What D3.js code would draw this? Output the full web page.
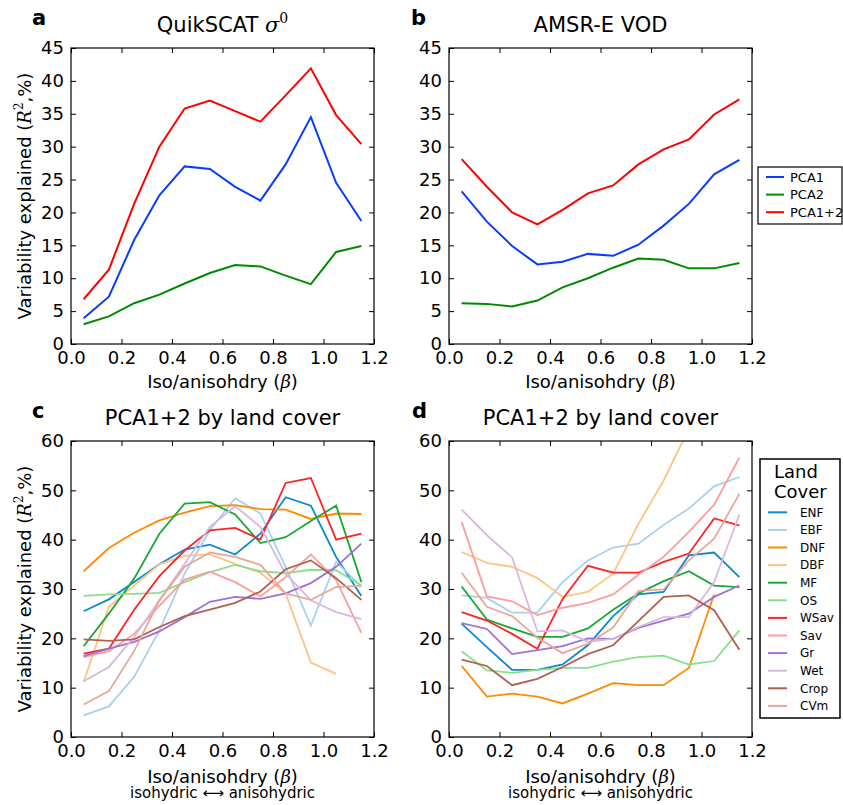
<!DOCTYPE html>
<html>
<head>
<meta charset="utf-8">
<script src="https://cdn.jsdelivr.net/npm/d3@7"></script>
<style>
  html, body { margin: 0; padding: 0; background: #fff; }
  svg { display: block; }
  text { font-family: "DejaVu Sans", sans-serif; fill: #000; }
  .math { font-family: "DejaVu Serif", serif; font-style: italic; }
</style>
</head>
<body>
<svg id="chart" width="843" height="805"></svg>
<script>
// ---------------- DATA ----------------
const betaBins = [0.05, 0.15, 0.25, 0.35, 0.45, 0.55, 0.65, 0.75, 0.85, 0.95, 1.05, 1.15];
const xTicks = [0.0, 0.2, 0.4, 0.6, 0.8, 1.0, 1.2];
const yTicksTop = [0, 5, 10, 15, 20, 25, 30, 35, 40, 45];
const yTicksBottom = [0, 10, 20, 30, 40, 50, 60];

const seriesNames = ["PCA1", "PCA2", "PCA1+2"];
// Panel a: QuikSCAT sigma0
const quikPCA1  = [3.9, 7.2, 15.8, 22.6, 27.0, 26.6, 23.9, 21.8, 27.3, 34.5, 24.5, 18.7];
const quikPCA2  = [3.0, 4.2, 6.2, 7.5, 9.2, 10.8, 12.0, 11.8, 10.4, 9.1, 14.0, 14.9];
const quikPCA12 = [6.8, 11.3, 21.3, 30.0, 35.8, 37.0, 35.4, 33.8, 37.8, 41.9, 34.8, 30.4];
// Panel b: AMSR-E VOD
const vodPCA1  = [23.2, 18.6, 14.9, 12.1, 12.5, 13.7, 13.4, 15.1, 18.0, 21.3, 25.8, 28.0];
const vodPCA2  = [6.2, 6.1, 5.7, 6.6, 8.6, 10.0, 11.6, 13.0, 12.8, 11.5, 11.5, 12.3];
const vodPCA12 = [28.1, 23.9, 20.0, 18.2, 20.4, 22.9, 24.1, 27.3, 29.6, 31.1, 34.9, 37.2];

const landCovers = ["ENF", "EBF", "DNF", "DBF", "MF", "OS", "WSav", "Sav", "Gr", "Wet", "Crop", "CVm"];
// Panel c: PCA1+2 by land cover (QuikSCAT)
const cENF  = [25.5, 27.9, 31.4, 35.0, 38.0, 39.0, 37.0, 41.2, 48.6, 46.9, 36.5, 28.6];
const cEBF  = [4.4, 6.2, 12.2, 21.6, 33.1, 41.9, 48.4, 45.3, 34.5, 22.6, 35.5, 30.5];
const cDNF  = [33.6, 38.3, 41.4, 43.9, 45.5, 46.8, 47.0, 46.2, 46.1, 44.2, 45.3, 45.2];
const cDBF  = [11.1, 26.4, 30.7, 35.0, 36.7, 37.0, 35.1, 33.3, 29.1, 15.1, 12.8, null];
const cMF   = [18.4, 25.0, 32.1, 41.2, 47.3, 47.6, 45.1, 39.3, 40.5, 43.8, 46.9, 31.4];
const cOS   = [28.6, 28.9, 29.0, 29.2, 31.4, 33.4, 34.9, 33.6, 33.2, 33.9, 33.8, 30.7];
const cWSav = [16.9, 17.9, 25.8, 32.6, 37.8, 41.9, 42.4, 40.0, 51.5, 52.5, 40.0, 41.2];
const cSav  = [16.2, 17.4, 20.9, 26.6, 31.9, 33.5, 31.4, 28.5, 32.4, 37.0, 31.8, 21.1];
const cGr   = [16.4, 17.9, 19.3, 21.4, 24.3, 27.4, 28.4, 28.0, 29.1, 31.2, 34.5, 39.2];
const cWet  = [11.3, 14.2, 20.3, 27.7, 35.1, 42.6, 46.8, 42.6, 33.1, 27.7, 25.3, 23.9];
const cCrop = [19.8, 19.5, 19.8, 22.3, 24.5, 25.8, 27.2, 29.5, 34.0, 35.8, 32.2, 27.8];
const cCVm  = [6.6, 9.3, 17.4, 27.7, 34.5, 37.4, 36.5, 34.9, 29.1, 27.8, 30.4, 30.7];
// Panel d: PCA1+2 by land cover (AMSR-E VOD)
const dENF  = [23.0, 18.2, 13.6, 13.6, 14.7, 18.6, 24.5, 28.9, 29.4, 36.8, 37.4, 32.4];
const dEBF  = [28.7, 28.2, 25.2, 25.2, 31.4, 35.8, 38.4, 39.2, 43.0, 46.3, 50.8, 52.7];
const dDNF  = [14.4, 8.2, 8.8, 8.2, 6.8, 8.8, 10.9, 10.5, 10.5, 14.0, 28.9, null];
const dDBF  = [37.5, 35.3, 34.5, 32.2, 28.4, 29.4, 33.1, 43.2, 52.0, 62.5, null, null];
const dMF   = [30.5, 23.8, 22.0, 20.3, 20.3, 22.0, 25.8, 29.1, 31.6, 33.6, 30.7, 30.4];
const dOS   = [17.4, 13.5, 13.0, 13.6, 14.0, 14.0, 15.3, 16.2, 16.5, 14.7, 15.4, 21.6];
const dWSav = [25.3, 23.6, 20.9, 17.9, 28.0, 34.7, 33.3, 33.3, 35.5, 37.2, 44.3, 42.9];
const dSav  = [43.6, 28.5, 27.5, 24.7, 26.2, 27.2, 28.9, 32.9, 36.5, 41.6, 47.1, 56.6];
const dGr   = [23.1, 21.9, 16.8, 17.6, 18.4, 20.0, 19.9, 22.1, 23.6, 25.0, 28.4, 30.7];
const dWet  = [46.1, 40.9, 36.4, 21.4, 21.6, 19.3, 19.9, 22.3, 24.3, 24.3, 31.4, 45.1];
const dCrop = [15.7, 14.4, 10.5, 11.8, 14.2, 16.8, 18.6, 23.5, 28.4, 28.7, 25.7, 17.7];
const dCVm  = [33.3, 26.4, 24.5, 20.1, 17.0, 18.9, 22.2, 29.6, 29.9, 35.8, 40.2, 49.3];

// ---------------- STYLE ----------------
const pcaColors = ["#0a3cff", "#008a00", "#ff0000"];
const lcColors = ["#0b8ad0", "#a8d0f0", "#ff8a00", "#ffc285", "#18a838", "#88e08c",
                  "#ff2424", "#ff9c9c", "#a070d2", "#d8b8e0", "#b06050", "#e8a898"];

const svg = d3.select("#chart");

function makePanel(box, yMax, yTicks, id) {
  const x = d3.scaleLinear().domain([0, 1.2]).range([box.x0, box.x1]);
  const y = d3.scaleLinear().domain([0, yMax]).range([box.y1, box.y0]);
  const g = svg.append("g");
  const fmtX = d3.format(".1f");
  // bottom
  g.append("g").attr("transform", `translate(0,${box.y1})`)
    .call(d3.axisBottom(x).tickValues(xTicks).tickFormat(fmtX).tickSize(-5).tickSizeOuter(0).tickPadding(7))
    .call(a => a.select(".domain").remove());
  // top
  g.append("g").attr("transform", `translate(0,${box.y0})`)
    .call(d3.axisTop(x).tickValues(xTicks).tickFormat("").tickSize(-5).tickSizeOuter(0))
    .call(a => a.select(".domain").remove());
  // left
  g.append("g").attr("transform", `translate(${box.x0},0)`)
    .call(d3.axisLeft(y).tickValues(yTicks).tickFormat(d3.format("d")).tickSize(-5).tickSizeOuter(0).tickPadding(7))
    .call(a => a.select(".domain").remove());
  // right
  g.append("g").attr("transform", `translate(${box.x1},0)`)
    .call(d3.axisRight(y).tickValues(yTicks).tickFormat("").tickSize(-5).tickSizeOuter(0))
    .call(a => a.select(".domain").remove());
  g.selectAll(".tick line").attr("stroke", "#000").attr("stroke-width", 1);
  g.selectAll(".tick text").attr("font-family", "DejaVu Sans").attr("font-size", 18).attr("fill", "#000");

  svg.append("clipPath").attr("id", "clip" + id)
    .append("rect").attr("x", box.x0).attr("y", box.y0)
    .attr("width", box.x1 - box.x0).attr("height", box.y1 - box.y0);
  const lines = svg.append("g").attr("clip-path", `url(#clip${id})`);
  svg.append("rect").attr("x", box.x0).attr("y", box.y0)
    .attr("width", box.x1 - box.x0).attr("height", box.y1 - box.y0)
    .attr("fill", "none").attr("stroke", "#000").attr("stroke-width", 1.2);
  return { x, y, lines };
}

function drawSeries(p, values, color, width) {
  const line = d3.line()
    .defined(d => d != null)
    .x((d, i) => p.x(betaBins[i]))
    .y(d => p.y(d));
  p.lines.append("path").datum(values)
    .attr("d", line).attr("fill", "none")
    .attr("stroke", color).attr("stroke-width", width)
    .attr("stroke-linejoin", "miter").attr("stroke-linecap", "butt");
}

const boxA = { x0: 71, x1: 374, y0: 48, y1: 344 };
const boxB = { x0: 449, x1: 752, y0: 48, y1: 344 };
const boxC = { x0: 71, x1: 374, y0: 441, y1: 737 };
const boxD = { x0: 449, x1: 752, y0: 441, y1: 737 };

const pA = makePanel(boxA, 45, yTicksTop, "a");
const pB = makePanel(boxB, 45, yTicksTop, "b");
const pC = makePanel(boxC, 60, yTicksBottom, "c");
const pD = makePanel(boxD, 60, yTicksBottom, "d");

[quikPCA1, quikPCA2, quikPCA12].forEach((s, i) => drawSeries(pA, s, pcaColors[i], 2));
[vodPCA1, vodPCA2, vodPCA12].forEach((s, i) => drawSeries(pB, s, pcaColors[i], 2));
[cENF, cEBF, cDNF, cDBF, cMF, cOS, cWSav, cSav, cGr, cWet, cCrop, cCVm]
  .forEach((s, i) => drawSeries(pC, s, lcColors[i], 1.8));
[dENF, dEBF, dDNF, dDBF, dMF, dOS, dWSav, dSav, dGr, dWet, dCrop, dCVm]
  .forEach((s, i) => drawSeries(pD, s, lcColors[i], 1.8));

// ---------------- TEXT ----------------
function panelLetter(txt, x, y) {
  svg.append("text").attr("x", x).attr("y", y).attr("font-size", 21)
    .attr("font-weight", "bold").text(txt);
}
panelLetter("a", 32, 25);
panelLetter("b", 411, 25);
panelLetter("c", 32, 418);
panelLetter("d", 412, 418);

// titles
const tA = svg.append("text").attr("x", (boxA.x0 + boxA.x1) / 2).attr("y", 32)
  .attr("text-anchor", "middle").attr("font-size", 21);
tA.append("tspan").text("QuikSCAT ");
tA.append("tspan").attr("class", "math").text("σ");
tA.append("tspan").attr("font-size", 14).attr("dy", -9).attr("font-family", "DejaVu Serif").text("0");

svg.append("text").attr("x", (boxB.x0 + boxB.x1) / 2).attr("y", 32)
  .attr("text-anchor", "middle").attr("font-size", 21).text("AMSR-E VOD");
svg.append("text").attr("x", (boxC.x0 + boxC.x1) / 2).attr("y", 425)
  .attr("text-anchor", "middle").attr("font-size", 21).text("PCA1+2 by land cover");
svg.append("text").attr("x", (boxD.x0 + boxD.x1) / 2).attr("y", 425)
  .attr("text-anchor", "middle").attr("font-size", 21).text("PCA1+2 by land cover");

// x labels
function xLabel(box, yBase, sub) {
  const t = svg.append("text").attr("x", (box.x0 + box.x1) / 2).attr("y", yBase)
    .attr("text-anchor", "middle").attr("font-size", 18);
  t.append("tspan").text("Iso/anisohdry (");
  t.append("tspan").attr("class", "math").text("β");
  t.append("tspan").text(")");
  if (sub) {
    svg.append("text").attr("x", (box.x0 + box.x1) / 2).attr("y", yBase + 15)
      .attr("text-anchor", "middle").attr("font-size", 15)
      .text("isohydric ⟷ anisohydric");
  }
}
xLabel(boxA, 388, false);
xLabel(boxB, 388, false);
xLabel(boxC, 783, true);
xLabel(boxD, 783, true);

// y labels
function yLabel(box) {
  const cy = (box.y0 + box.y1) / 2;
  const t = svg.append("text").attr("transform", `translate(31,${cy}) rotate(-90)`)
    .attr("text-anchor", "middle").attr("font-size", 18);
  t.append("tspan").text("Variability explained (");
  t.append("tspan").attr("class", "math").text("R");
  t.append("tspan").attr("font-size", 12).attr("dy", -8).attr("font-family", "DejaVu Serif").text("2");
  t.append("tspan").attr("dy", 8).text(",%)");
}
yLabel(boxA);
yLabel(boxC);

// legend b
const legB = svg.append("g");
legB.append("rect").attr("x", 758).attr("y", 167).attr("width", 84).attr("height", 57)
  .attr("fill", "#fff").attr("stroke", "#000").attr("stroke-width", 1.2);
seriesNames.forEach((n, i) => {
  const yy = 177 + i * 17.6;
  legB.append("line").attr("x1", 766).attr("x2", 784).attr("y1", yy).attr("y2", yy)
    .attr("stroke", pcaColors[i]).attr("stroke-width", 2);
  legB.append("text").attr("x", 790).attr("y", yy + 4.6).attr("font-size", 13).text(n);
});

// legend d
const legD = svg.append("g");
legD.append("rect").attr("x", 760).attr("y", 459).attr("width", 80).attr("height", 259)
  .attr("fill", "#fff").attr("stroke", "#000").attr("stroke-width", 1.5);
legD.append("text").attr("x", 774).attr("y", 478).attr("font-size", 18).text("Land");
legD.append("text").attr("x", 774).attr("y", 498).attr("font-size", 18).text("Cover");
landCovers.forEach((n, i) => {
  const yy = 512.3 + i * 17.6;
  legD.append("line").attr("x1", 768).attr("x2", 787).attr("y1", yy).attr("y2", yy)
    .attr("stroke", lcColors[i]).attr("stroke-width", 2);
  legD.append("text").attr("x", 800).attr("y", yy + 4.3).attr("font-size", 12).text(n);
});
</script>
</body>
</html>
